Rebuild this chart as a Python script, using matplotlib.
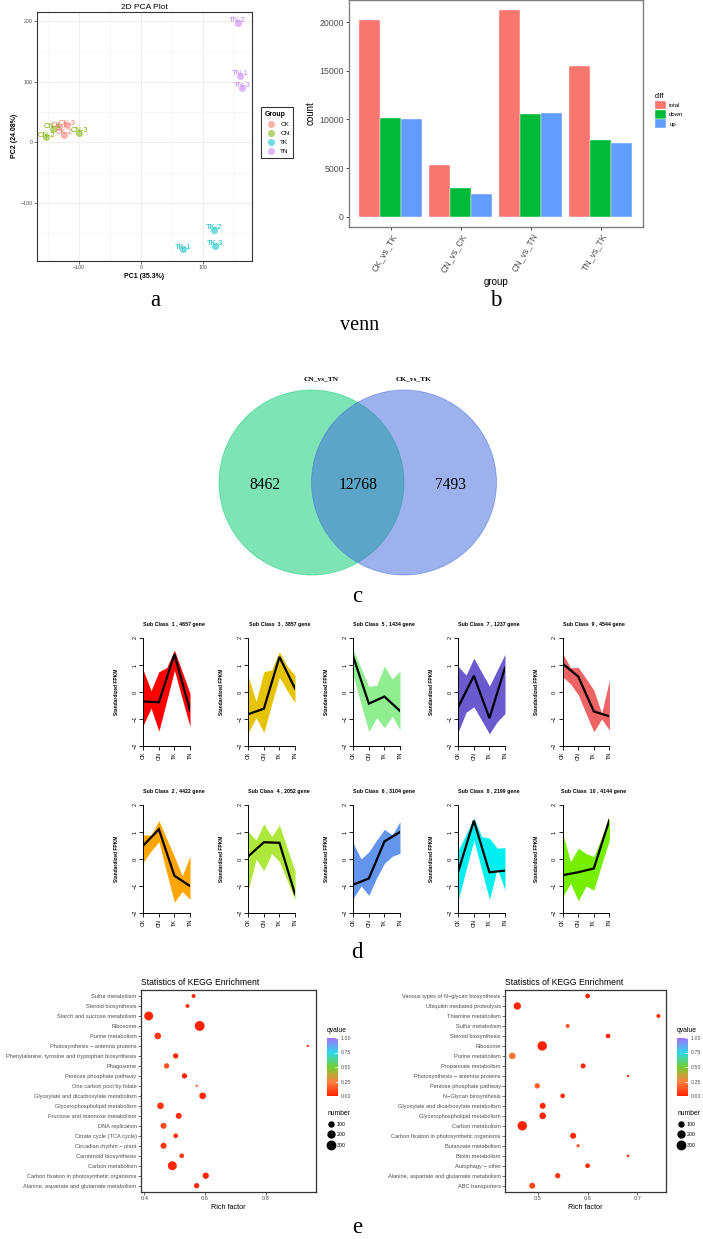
import matplotlib
matplotlib.use("Agg")
import matplotlib.pyplot as plt
import numpy as np
from matplotlib.patches import Circle, Patch
from matplotlib.lines import Line2D
from matplotlib.colors import LinearSegmentedColormap, Normalize
from matplotlib.cm import ScalarMappable

SANS = ['Liberation Sans', 'DejaVu Sans']
SERIF = ['Liberation Serif', 'DejaVu Serif']
plt.rcParams['font.family'] = SANS

# ---------------- data ----------------
# a: PCA
pca_groups = ['CK', 'CN', 'TK', 'TN']
pca_colors = ['#F8766D', '#7CAE00', '#00BFC4', '#C77CFF']
pca_names = ['CK-1', 'CK-2', 'CK-3', 'CN-1', 'CN-2', 'CN-3',
             'TK-1', 'TK-2', 'TK-3', 'TN-1', 'TN-2', 'TN-3']
pca_pc1 = [-133, -124, -120, -143, -153, -100, 67, 118, 120, 160, 156, 163]
pca_pc2 = [25, 12, 28, 22, 8, 16, -177, -145, -171, 110, 197, 90]

# b: DEG counts
bar_groups = ['CK_vs_TK', 'CN_vs_CK', 'CN_vs_TN', 'TN_vs_TK']
bar_series = ['total', 'down', 'up']
bar_colors = ['#F8766D', '#00BA38', '#619CFF']
bar_total = [20261, 5298, 21230, 15500]
bar_down = [10175, 2941, 10530, 7890]
bar_up = [10086, 2357, 10700, 7610]

# c: venn
venn_sets = ['CN_vs_TN', 'CK_vs_TK']
venn_counts = [8462, 12768, 7493]   # left only, shared, right only
venn_colors = ['#01CB6D', '#3D65DD']

# d: expression clusters
cl_samples = ['CK', 'CN', 'TK', 'TN']
cl_x7 = [0, 0.5, 1, 1.5, 2, 2.5, 3]
cl_ids = [1, 3, 5, 7, 9, 2, 4, 6, 8, 10]
cl_genes = [4657, 3857, 1434, 1237, 4544, 4422, 2052, 3104, 2199, 4144]
cl_colors = ['#FF0000', '#E6C300', '#90EE90', '#6A5ACD', '#EE6363',
             '#FFA500', '#ADE83A', '#6495ED', '#00F0F0', '#76EE00']
cl_upper = [
    [0.8, 0.05, 0.75, 0.9, 1.55, 0.75, -0.05],
    [0.57, -0.35, 0.75, 0.82, 1.49, 0.95, 0.63],
    [1.56, 0.88, 0.2, 0.25, 0.96, 0.48, 0.78],
    [0.94, 0.63, 1.25, 0.73, 0.22, 0.81, 1.4],
    [1.43, 0.9, 0.91, 0.5, 0.07, -0.78, 0.44],
    [0.89, 0.89, 1.42, 0.75, 0.09, -0.63, 0.11],
    [1.01, 0.7, 1.3, 0.83, 1.26, 0.4, -0.44],
    [0.58, 0.0, 0.27, 0.7, 1.1, 0.89, 1.38],
    [0.33, 0.92, 1.51, 0.83, 0.77, 0.4, 0.42],
    [0.95, -0.1, 0.4, 0.2, 0.09, 0.8, 1.51],
]
cl_lower = [
    [-1.22, -0.6, -1.45, -0.33, 0.8, -0.25, -1.28],
    [-1.5, -0.95, -1.5, -0.45, 0.55, 0.05, -0.4],
    [0.6, -0.45, -1.47, -0.95, -1.32, -0.9, -1.4],
    [-1.47, -0.75, -0.55, -1.05, -1.55, -1.1, -0.8],
    [0.57, 0.3, -0.1, -0.8, -1.47, -1.0, -1.41],
    [-0.12, 0.3, 0.64, -0.5, -1.6, -1.2, -1.5],
    [-1.15, 0.0, -0.43, 0.2, -0.1, -0.8, -1.5],
    [-1.45, -1.0, -1.35, -0.7, -0.16, 0.1, 0.21],
    [-1.5, -0.4, 0.7, -0.4, -1.5, -0.35, -1.15],
    [-1.4, -0.9, -1.55, -1.0, -1.15, -0.2, 0.7],
]
cl_center = [
    [-0.35, -0.38, 1.4, -0.68],
    [-0.82, -0.62, 1.3, 0.13],
    [1.3, -0.43, -0.17, -0.7],
    [-0.55, 0.6, -0.97, 0.9],
    [1.05, 0.57, -0.72, -0.9],
    [0.5, 1.1, -0.62, -1.0],
    [0.1, 0.62, 0.6, -1.3],
    [-0.95, -0.72, 0.65, 1.0],
    [-0.45, 1.42, -0.49, -0.43],
    [-0.6, -0.49, -0.35, 1.45],
]

# e: KEGG enrichment (rows listed top to bottom)
kegg1_terms = ['Sulfur metabolism', 'Steroid biosynthesis', 'Starch and sucrose metabolism',
               'Ribosome', 'Purine metabolism', 'Photosynthesis \u2212 antenna proteins',
               'Phenylalanine, tyrosine and tryptophan biosynthesis', 'Phagosome',
               'Pentose phosphate pathway', 'One carbon pool by folate',
               'Glyoxylate and dicarboxylate metabolism', 'Glycerophospholipid metabolism',
               'Fructose and mannose metabolism', 'DNA replication', 'Citrate cycle (TCA cycle)',
               'Circadian rhythm \u2212 plant', 'Carotenoid biosynthesis', 'Carbon metabolism',
               'Carbon fixation in photosynthetic organisms',
               'Alanine, aspartate and glutamate metabolism']
kegg1_rich = [0.562, 0.542, 0.414, 0.582, 0.444, 0.938, 0.503, 0.473, 0.532, 0.572,
              0.592, 0.453, 0.513, 0.463, 0.503, 0.463, 0.523, 0.492, 0.602, 0.572]
kegg1_count = [60, 60, 340, 420, 186, 14, 115, 115, 115, 14,
               186, 186, 148, 148, 86, 148, 86, 340, 165, 115]
kegg1_q = [0.02, 0.05, 0.01, 0.0, 0.06, 0.02, 0.02, 0.12, 0.01, 0.15,
           0.01, 0.05, 0.02, 0.1, 0.03, 0.05, 0.06, 0.01, 0.01, 0.02]

kegg2_terms = ['Various types of N\u2212glycan biosynthesis', 'Ubiquitin mediated proteolysis',
               'Thiamine metabolism', 'Sulfur metabolism', 'Steroid biosynthesis', 'Ribosome',
               'Purine metabolism', 'Propanoate metabolism', 'Photosynthesis \u2212 antenna proteins',
               'Pentose phosphate pathway', 'N\u2212Glycan biosynthesis',
               'Glyoxylate and dicarboxylate metabolism', 'Glycerophospholipid metabolism',
               'Carbon metabolism', 'Carbon fixation in photosynthetic organisms',
               'Butanoate metabolism', 'Biotin metabolism', 'Autophagy \u2212 other',
               'Alanine, aspartate and glutamate metabolism', 'ABC transporters']
kegg2_rich = [0.600, 0.459, 0.742, 0.560, 0.641, 0.509, 0.449, 0.591, 0.681, 0.499,
              0.550, 0.510, 0.510, 0.469, 0.571, 0.581, 0.681, 0.600, 0.540, 0.489]
kegg2_count = [86, 227, 60, 60, 86, 380, 186, 100, 14, 115,
               86, 148, 186, 380, 148, 39, 21, 86, 115, 148]
kegg2_q = [0.01, 0.01, 0.01, 0.12, 0.01, 0.0, 0.22, 0.01, 0.03, 0.15,
           0.02, 0.01, 0.01, 0.0, 0.01, 0.15, 0.05, 0.02, 0.06, 0.1]
size_breaks = [100, 200, 300]
q_cmap = LinearSegmentedColormap.from_list(
    'q', ['#FF2200', '#FF8040', '#70D030', '#30D8E8', '#A070FF'])

# ---------------- layout helpers ----------------
W, H = 703, 1239
fig = plt.figure(figsize=(W / 100, H / 100), dpi=100)


def px_axes(l, t, r, b):
    return fig.add_axes([l / W, 1 - b / H, (r - l) / W, (b - t) / H])


def fx(x):
    return x / W


def fy(y):
    return 1 - y / H


def expand(vals, f=0.05):
    lo, hi = min(vals), max(vals)
    d = (hi - lo) * f
    return lo - d, hi + d


GRAY = '#4D4D4D'

# ---------------- a: PCA ----------------
ax = px_axes(36.7, 11.7, 251.7, 260.7)
for g, col in zip(pca_groups, pca_colors):
    idx = [i for i, n in enumerate(pca_names) if n.startswith(g)]
    ax.scatter([pca_pc1[i] for i in idx], [pca_pc2[i] for i in idx], s=26,
               color=col, alpha=0.55, lw=0, label=g, zorder=3)
    for i in idx:
        ax.annotate(pca_names[i], (pca_pc1[i], pca_pc2[i]), xytext=(0, 1.5),
                    textcoords='offset points', ha='center', va='center',
                    fontsize=5.4, color=col, zorder=4)
ax.set_xlim(expand(pca_pc1))
ax.set_ylim(expand(pca_pc2))
ax.set_xticks([-100, 0, 100])
ax.set_yticks([-100, 0, 100, 200])
ax.set_xticks([-150, -50, 50, 150], minor=True)
ax.set_yticks([-150, -50, 50, 150], minor=True)
ax.grid(which='major', color='#EBEBEB', lw=0.6)
ax.grid(which='minor', color='#F2F2F2', lw=0.4)
ax.set_axisbelow(True)
ax.tick_params(which='major', labelsize=3.8, labelcolor=GRAY, length=2, width=0.5, color='#333333', pad=1)
ax.tick_params(which='minor', length=0)
for sp in ax.spines.values():
    sp.set_color('#333333')
    sp.set_linewidth(0.8)
ax.set_xlabel('PC1 (35.3%)', fontsize=5, fontweight='bold', labelpad=2)
ax.set_ylabel('PC2 (24.08%)', fontsize=5, fontweight='bold', labelpad=2)
ax.set_title('2D PCA Plot', fontsize=6, pad=2)
leg = ax.legend(title='Group', loc='upper left', bbox_to_anchor=(fx(258), fy(104)),
                bbox_transform=fig.transFigure, fontsize=4.6, title_fontproperties={'size': 5, 'weight': 'bold'},
                frameon=True, fancybox=False, edgecolor='black', borderpad=0.6,
                handletextpad=0.4, labelspacing=0.55, markerscale=1.0)
leg.get_frame().set_linewidth(0.8)
leg._legend_box.align = 'left'

# ---------------- b: bar chart ----------------
ax = px_axes(348.8, 0, 643, 227)
xpos = np.arange(len(bar_groups))
w = 0.3
for k, (vals, col, lab) in enumerate(zip([bar_total, bar_down, bar_up], bar_colors, bar_series)):
    ax.bar(xpos + (k - 1) * w, vals, width=w, color=col, edgecolor='white', lw=0.3, label=lab)
ax.set_xlim(-0.6, len(bar_groups) - 0.4)
ax.set_ylim(expand([0] + bar_total))
ax.set_xticks(xpos)
ax.set_xticklabels(bar_groups, rotation=60, ha='right', va='top', rotation_mode='anchor')
ax.set_yticks([0, 5000, 10000, 15000, 20000])
ax.tick_params(labelsize=6.3, labelcolor=GRAY, length=2, width=0.5, pad=1.5)
for sp in ax.spines.values():
    sp.set_color('#7F7F7F')
    sp.set_linewidth(1.0)
ax.set_xlabel('group', fontsize=7, labelpad=2)
ax.set_ylabel('count', fontsize=7, labelpad=3)
leg = ax.legend(title='diff', loc='upper left', bbox_to_anchor=(fx(651), fy(89)),
                bbox_transform=fig.transFigure, fontsize=4.3, title_fontsize=5.2,
                frameon=False, handlelength=1.85, handleheight=1.85, labelspacing=0.1,
                handletextpad=0.5, borderpad=0.2, alignment='left')

# ---------------- c: venn ----------------
vcx, vcy, vr = 357.75, 482.5, 92.5
ax = px_axes(vcx - 1.6 * vr, vcy - 1.15 * vr, vcx + 1.6 * vr, vcy + 1.15 * vr)
ax.set_xlim(-1.6, 1.6)
ax.set_ylim(-1.15, 1.15)
ax.axis('off')
for cx, col in zip([-0.5, 0.5], venn_colors):
    ax.add_patch(Circle((cx, 0), 1, facecolor=col, alpha=0.5, edgecolor=col, lw=0.6))
for cx, name in zip([-0.4, 0.6], venn_sets):
    ax.text(cx, 1.11, name, ha='center', va='baseline', fontsize=5.3,
            fontweight='bold', family=SERIF)
for cx, n in zip([-1.0, 0.0, 1.0], venn_counts):
    ax.text(cx, -0.07, str(n), ha='center', va='baseline', fontsize=11.2, family=SERIF)
fig.text(fx(360), fy(330), 'venn', ha='center', va='baseline', fontsize=14.5, family=SERIF)

# ---------------- d: clusters ----------------
cl_lefts = [143.3, 248.3, 353.3, 458.3, 562.7]
cl_tops = [638, 805]
cw, ch = 46.7, 108
for i in range(len(cl_ids)):
    row, col = divmod(i, 5)
    l, t = cl_lefts[col], cl_tops[row]
    ax = px_axes(l, t, l + cw, t + ch)
    ax.fill_between(cl_x7, cl_lower[i], cl_upper[i], color=cl_colors[i], lw=0)
    ax.plot(range(len(cl_samples)), cl_center[i], color='black', lw=1.6, solid_joinstyle='miter')
    ax.set_xlim(0, 3)
    ax.set_ylim(-2, 2)
    ax.spines['top'].set_visible(False)
    ax.spines['right'].set_visible(False)
    ax.spines['left'].set_bounds(-2, 2)
    ax.spines['bottom'].set_bounds(0, 3)
    for s in ('left', 'bottom'):
        ax.spines[s].set_linewidth(0.7)
    ax.set_xticks(range(len(cl_samples)))
    ax.set_xticklabels(cl_samples, rotation=90, fontsize=4)
    ax.set_yticks([-2, -1, 0, 1, 2])
    ax.set_yticklabels(['\u22122', '\u22121', '0', '1', '2'], rotation=90, va='center', fontsize=4)
    ax.tick_params(length=3, width=0.6, pad=1.2)
    ax.set_ylabel('Standardized FPKM', fontsize=3.5, fontweight='bold')
    ax.yaxis.set_label_coords(-24 / cw, 0.5)
    ax.text(31 / cw, 1 + 13 / ch, 'Sub Class  %d , %d gene' % (cl_ids[i], cl_genes[i]),
            transform=ax.transAxes, ha='center', va='center', fontsize=3.8, fontweight='bold')
    ax.set_clip_on(False)

# ---------------- e: KEGG ----------------
def size_of(n):
    return 1.2 + 0.1176 * np.asarray(n, dtype=float)


norm = Normalize(0, 1)
kegg_sets = [
    (kegg1_terms, kegg1_rich, kegg1_count, kegg1_q, (140.7, 315.7), [0.4, 0.6, 0.8], 0),
    (kegg2_terms, kegg2_rich, kegg2_count, kegg2_q, (505, 665.7), [0.5, 0.6, 0.7], 350),
]
for terms, rich, cnt, q, (l, r), xt, dx in kegg_sets:
    ax = px_axes(l, 990, r, 1191.7)
    ypos = np.arange(len(terms), 0, -1)
    ax.scatter(rich, ypos, s=size_of(cnt), c=q, cmap=q_cmap, norm=norm, lw=0, zorder=3)
    ax.set_xlim(expand(rich))
    ax.set_ylim(0.4, len(terms) + 0.6)
    ax.set_yticks(ypos)
    ax.set_yticklabels(terms)
    ax.set_xticks(xt)
    ax.set_xticklabels(['%.1f' % v for v in xt])
    ax.tick_params(labelsize=4.1, labelcolor=GRAY, length=2, width=0.5, color='#333333', pad=1)
    for sp in ax.spines.values():
        sp.set_color('#333333')
        sp.set_linewidth(0.9)
    ax.set_title('Statistics of KEGG Enrichment', loc='left', fontsize=6.2, pad=3.5)
    ax.set_xlabel('Rich factor', fontsize=5.2, labelpad=2)

    # colour guide
    cax = px_axes(326.7 + dx, 1038, 338.3 + dx, 1096)
    cb = fig.colorbar(ScalarMappable(norm=norm, cmap=q_cmap), cax=cax)
    cb.outline.set_visible(False)
    cb.set_ticks([0, 0.25, 0.5, 0.75, 1.0])
    cb.set_ticklabels(['0.00', '0.25', '0.50', '0.75', '1.00'])
    cax.tick_params(labelsize=3.8, labelcolor=GRAY, direction='in', color='white',
                    length=2.5, width=0.6, pad=1.5)
    fig.text(fx(326.7 + dx), fy(1031), 'qvalue', ha='left', va='center', fontsize=4.9)

    # size guide
    handles = [Line2D([], [], ls='', marker='o', color='black',
                      markersize=float(np.sqrt(size_of(b)))) for b in size_breaks]
    ax.legend(handles, [str(b) for b in size_breaks], title='number', loc='upper left',
              bbox_to_anchor=(fx(324 + dx), fy(1106)), bbox_transform=fig.transFigure,
              fontsize=3.8, title_fontsize=4.9, frameon=False, handlelength=1.2,
              handletextpad=0.5, labelspacing=1.0, borderpad=0.2, alignment='left')

# ---------------- panel letters ----------------
for letter, x, y in [('a', 155, 306), ('b', 496, 306), ('c', 357, 601.7),
                     ('d', 357, 958), ('e', 357, 1233)]:
    fig.text(fx(x), fy(y), letter, ha='center', va='baseline', fontsize=16.5, family=SERIF)

fig.savefig('out.png', dpi=100)
